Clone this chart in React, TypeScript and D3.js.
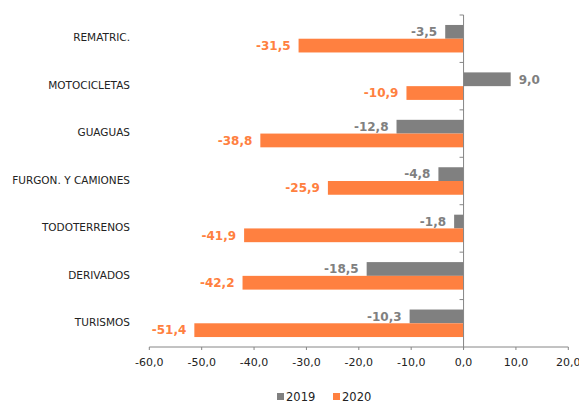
import { useEffect, useRef } from 'react'
import * as d3 from 'd3'

const categories = ['REMATRIC.', 'MOTOCICLETAS', 'GUAGUAS', 'FURGON. Y CAMIONES', 'TODOTERRENOS', 'DERIVADOS', 'TURISMOS']
const values2019 = [-3.5, 9.0, -12.8, -4.8, -1.8, -18.5, -10.3]
const values2020 = [-31.5, -10.9, -38.8, -25.9, -41.9, -42.2, -51.4]
const xTicks = [-60, -50, -40, -30, -20, -10, 0, 10, 20]
const seriesNames = ['2019', '2020']

const W = 579
const H = 403
const FONT = 'Verdana, "DejaVu Sans", sans-serif'
const GRAY = '#808080'
const ORANGE = '#FF8040'
const AXIS = '#868686'

const fmt = (v: number) => v.toFixed(1).replace('.', ',')

export default function App() {
  const svgRef = useRef<SVGSVGElement>(null)

  useEffect(() => {
    if (!svgRef.current) return
    const svg = d3.select(svgRef.current)
    svg.selectAll('*').remove()

    const x = d3.scaleLinear().domain([-60, 20]).range([149.3, 568.3])
    const y = d3.scaleBand<string>().domain(categories).range([15, 347])
    const bw = y.bandwidth()
    const barH = bw * 0.29
    const series = [
      { name: seriesNames[0], values: values2019, color: GRAY, off: -barH },
      { name: seriesNames[1], values: values2020, color: ORANGE, off: 0 },
    ]

    // bars
    series.forEach(s => {
      const g = svg.append('g')
      g.selectAll('rect')
        .data(categories)
        .enter().append('rect')
        .attr('x', (_, i) => Math.min(x(0), x(s.values[i])))
        .attr('y', d => (y(d) as number) + bw / 2 + s.off)
        .attr('width', (_, i) => Math.abs(x(s.values[i]) - x(0)))
        .attr('height', barH)
        .attr('fill', s.color)

      g.selectAll('text')
        .data(categories)
        .enter().append('text')
        .attr('x', (_, i) => s.values[i] < 0 ? x(s.values[i]) - 8 : x(s.values[i]) + 8)
        .attr('y', d => (y(d) as number) + bw / 2 + s.off + barH / 2)
        .attr('dy', '0.36em')
        .attr('text-anchor', (_, i) => s.values[i] < 0 ? 'end' : 'start')
        .style('font-family', FONT)
        .style('font-size', '12px')
        .style('font-weight', 'bold')
        .style('fill', s.color)
        .text((_, i) => fmt(s.values[i]))
    })

    // vertical axis at zero
    const y0 = 15
    const y1 = 347
    svg.append('line')
      .attr('x1', x(0)).attr('x2', x(0))
      .attr('y1', y0).attr('y2', y1 + 2)
      .attr('stroke', AXIS).attr('stroke-width', 1)
    svg.selectAll('.ytick')
      .data(d3.range(categories.length))
      .enter().append('line')
      .attr('x1', x(0) - 4).attr('x2', x(0))
      .attr('y1', i => (y(categories[i]) as number))
      .attr('y2', i => (y(categories[i]) as number))
      .attr('stroke', AXIS)

    // category labels
    svg.selectAll('.cat')
      .data(categories)
      .enter().append('text')
      .attr('x', 130)
      .attr('y', d => (y(d) as number) + bw / 2 - 1)
      .attr('dy', '0.36em')
      .attr('text-anchor', 'end')
      .style('font-family', FONT)
      .style('font-size', '10.5px')
      .style('fill', '#222')
      .text(d => d)

    // horizontal axis
    svg.append('line')
      .attr('x1', x(-60)).attr('x2', x(20))
      .attr('y1', y1).attr('y2', y1)
      .attr('stroke', AXIS)
    svg.selectAll('.xtick')
      .data(xTicks)
      .enter().append('line')
      .attr('x1', d => x(d)).attr('x2', d => x(d))
      .attr('y1', y1).attr('y2', y1 + 3)
      .attr('stroke', AXIS)
    svg.selectAll('.xlab')
      .data(xTicks)
      .enter().append('text')
      .attr('x', d => x(d))
      .attr('y', 362)
      .attr('dy', '0.36em')
      .attr('text-anchor', 'middle')
      .style('font-family', FONT)
      .style('font-size', '11px')
      .style('fill', '#222')
      .text(d => fmt(d))

    // legend
    const legend = svg.append('g')
    series.forEach((s, i) => {
      const lx = 277 + i * 56
      legend.append('rect')
        .attr('x', lx).attr('y', 393)
        .attr('width', 7).attr('height', 7)
        .attr('fill', s.color)
      legend.append('text')
        .attr('x', lx + 9).attr('y', 401)
        .style('font-family', FONT)
        .style('font-size', '11.5px')
        .style('fill', '#222')
        .text(s.name)
    })
  }, [])

  return (
    <svg
      ref={svgRef}
      width={W}
      height={H}
      style={{ position: 'absolute', left: 0, top: 0, background: '#fff' }}
    />
  )
}
